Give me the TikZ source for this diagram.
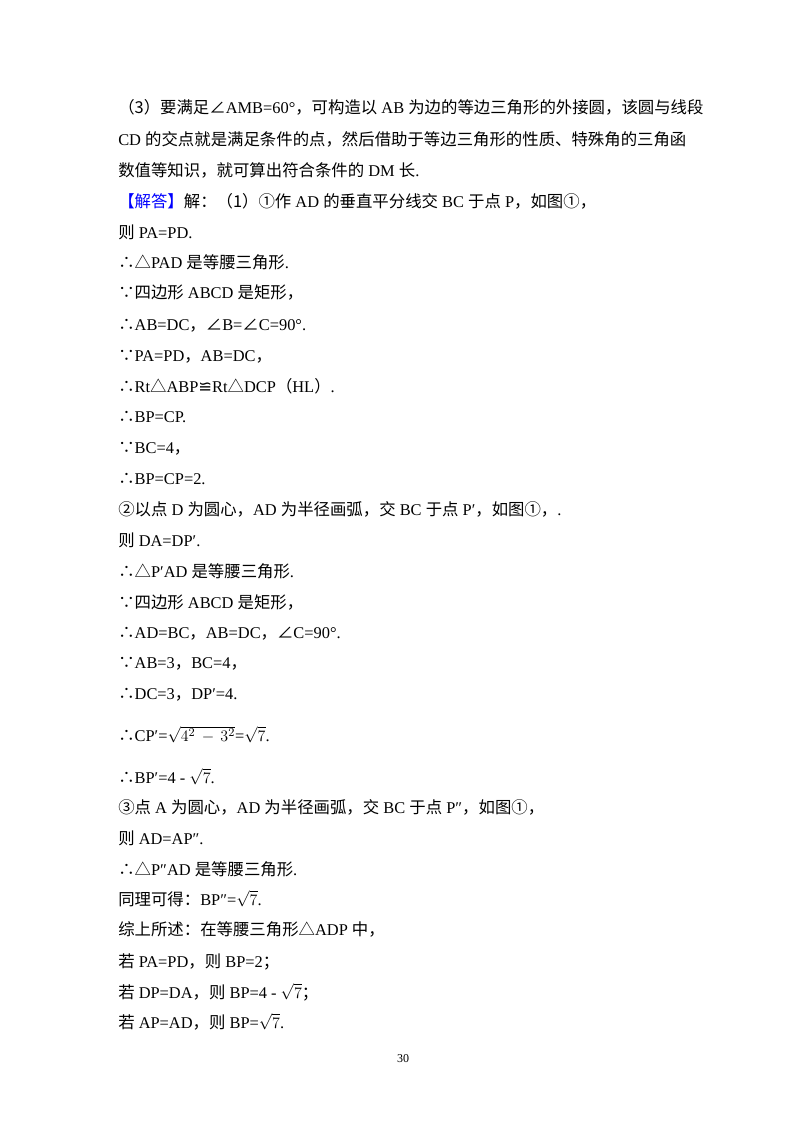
\documentclass[tikz,border=0pt]{standalone}
\usepackage{fontspec}
\setmainfont{Liberation Serif}
\newfontfamily\cjk{Noto Sans CJK SC}
\newfontfamily\dvs{DejaVu Sans}
\newcommand{\C}[1]{{\cjk #1}}
\newcommand{\W}[1]{\hspace{0.25em}#1\hspace{0.25em}}
\newcommand{\Wl}[1]{\hspace{0.25em}#1}
\newcommand{\sq}[1]{$\sqrt{#1}$}
\begin{document}
\begin{tikzpicture}[x=0.75pt,y=-0.75pt,
  ln/.style={anchor=base west,inner sep=0pt,font=\fontsize{12.3}{14}\selectfont}]
\fill[white] (0,0) rectangle (800,1132);
\useasboundingbox (0,0) rectangle (800,1132);
\node[ln] (l1) at (118,113) {\C{（3）要满足∠}AMB=60°\C{，可构造以}\W{AB}\C{为边的等边三角形的外接圆，该圆与线段}};
\node[ln] (l2) at (118,145) {CD\hspace{0.25em}\C{的交点就是满足条件的点，然后借助于等边三角形的性质、特殊角的三角函}};
\node[ln] (l3) at (118,176) {\C{数值等知识，就可算出符合条件的}\W{DM}\C{长}.};
\node[ln] (l4) at (118,207) {\textcolor{blue}{\C{【解答】}}\C{解：（1）①作}\W{AD}\C{的垂直平分线交}\W{BC}\C{于点}\Wl{P}\C{，如图①，}};
\node[ln] (l5) at (118,238) {\C{则}\Wl{PA=PD.}};
\node[ln] (l6) at (118,268) {\C{∴△}PAD\hspace{0.25em}\C{是等腰三角形}.};
\node[ln] (l7) at (118,298) {\C{∵四边形}\W{ABCD}\C{是矩形，}};
\node[ln] (l8) at (118,330) {\C{∴}AB=DC\C{，∠}B=\C{∠}C=90°.};
\node[ln] (l9) at (118,361) {\C{∵}PA=PD\C{，}AB=DC\C{，}};
\node[ln] (l10) at (118,392) {\C{∴}Rt\C{△}ABP{\dvs ≌}Rt\C{△}DCP\C{（}HL\C{）}.};
\node[ln] (l11) at (118,422) {\C{∴}BP=CP.};
\node[ln] (l12) at (118,453) {\C{∵}BC=4\C{，}};
\node[ln] (l13) at (118,484) {\C{∴}BP=CP=2.};
\node[ln] (l14) at (118,515) {\C{②以点}\W{D}\C{为圆心，}AD\hspace{0.25em}\C{为半径画弧，交}\W{BC}\C{于点}\Wl{P′}\C{，如图①，}.};
\node[ln] (l15) at (118,546) {\C{则}\Wl{DA=DP′.}};
\node[ln] (l16) at (118,577) {\C{∴△}P′AD\hspace{0.25em}\C{是等腰三角形}.};
\node[ln] (l17) at (118,608) {\C{∵四边形}\W{ABCD}\C{是矩形，}};
\node[ln] (l18) at (118,638) {\C{∴}AD=BC\C{，}AB=DC\C{，∠}C=90°.};
\node[ln] (l19) at (118,668) {\C{∵}AB=3\C{，}BC=4\C{，}};
\node[ln] (l20) at (118,699) {\C{∴}DC=3\C{，}DP′=4.};
\node[ln] (l21) at (118,741) {\C{∴}CP′=\sq{4^2\,-\,3^2}=\sq{7}.};
\node[ln] (l22) at (118,783) {\C{∴}BP′=4 - \sq{7}.};
\node[ln] (l23) at (118,813) {\C{③点}\W{A}\C{为圆心，}AD\hspace{0.25em}\C{为半径画弧，交}\W{BC}\C{于点}\Wl{P″}\C{，如图①，}};
\node[ln] (l24) at (118,844) {\C{则}\Wl{AD=AP″.}};
\node[ln] (l25) at (118,875) {\C{∴△}P″AD\hspace{0.25em}\C{是等腰三角形}.};
\node[ln] (l26) at (118,905) {\C{同理可得：}BP″=\sq{7}.};
\node[ln] (l27) at (118,935) {\C{综上所述：在等腰三角形△}ADP\hspace{0.25em}\C{中，}};
\node[ln] (l28) at (118,967) {\C{若}\Wl{PA=PD}\C{，则}\Wl{BP=2}\C{；}};
\node[ln] (l29) at (118,998) {\C{若}\Wl{DP=DA}\C{，则}\Wl{BP=4 - \sq{7}}\C{；}};
\node[ln] (l30) at (118,1028) {\C{若}\Wl{AP=AD}\C{，则}\Wl{BP=\sq{7}.}};
\node[anchor=base,inner sep=0pt,font=\fontsize{9}{11}\selectfont] (pg) at (403,1062) {30};
\end{tikzpicture}
\end{document}
